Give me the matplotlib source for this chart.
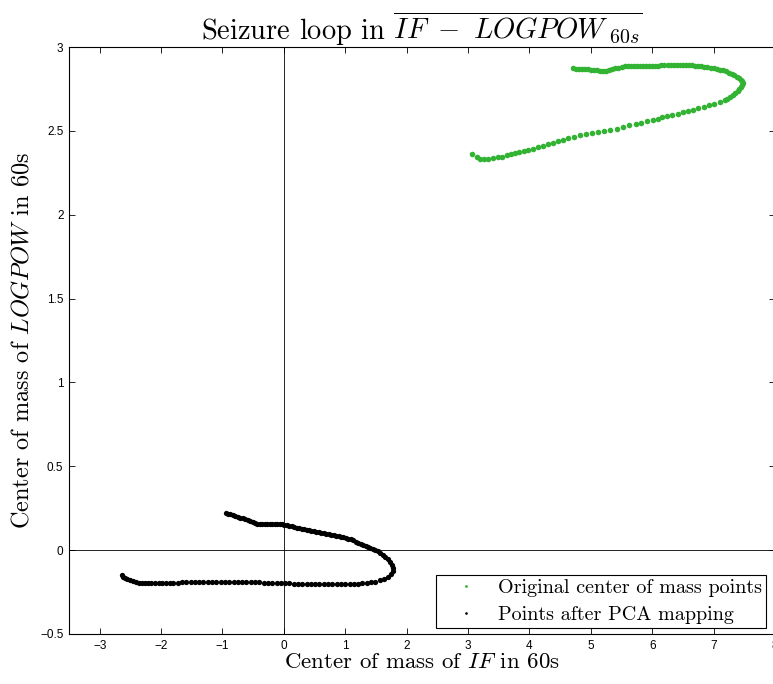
import matplotlib
matplotlib.use("Agg")
import matplotlib.pyplot as plt

plt.rcParams["mathtext.fontset"] = "cm"
plt.rcParams["axes.unicode_minus"] = True

# Original centre-of-mass points (IF, LOGPOW), 60 s windows
orig_x = [
    4.71, 4.76, 4.81, 4.86, 4.90, 4.95, 5.00, 5.05, 5.10, 5.15, 5.20, 5.25,
    5.30, 5.35, 5.40, 5.45, 5.50, 5.55, 5.60, 5.65, 5.70, 5.75, 5.80, 5.85,
    5.90, 5.95, 6.00, 6.05, 6.10, 6.15, 6.20, 6.25, 6.30, 6.35, 6.40, 6.45,
    6.50, 6.55, 6.60, 6.65, 6.70, 6.75, 6.80, 6.85, 6.90, 6.95, 7.00, 7.05,
    7.10, 7.15, 7.20, 7.25, 7.30, 7.34, 7.38, 7.42, 7.45, 7.47, 7.48, 7.47,
    7.45, 7.42, 7.39, 7.35, 7.31, 7.26, 7.21, 7.18,
    7.101, 7.008, 6.927, 6.845, 6.748, 6.666, 6.585, 6.503, 6.412, 6.324,
    6.243, 6.161, 6.096, 6.015, 5.917, 5.819, 5.728, 5.624, 5.516, 5.419,
    5.314, 5.217, 5.119, 5.021, 4.919, 4.821, 4.723, 4.630, 4.544, 4.458,
    4.376, 4.305, 4.223, 4.142, 4.060, 3.979, 3.909, 3.832, 3.762, 3.697,
    3.627, 3.555, 3.490, 3.409, 3.327, 3.262, 3.192, 3.138, 3.067,
]
orig_y = [
    2.872, 2.871, 2.870, 2.869, 2.868, 2.866, 2.864, 2.862, 2.860, 2.858, 2.857, 2.859,
    2.863, 2.868, 2.873, 2.877, 2.880, 2.884, 2.887, 2.888, 2.889, 2.889, 2.889, 2.889,
    2.888, 2.888, 2.888, 2.888, 2.889, 2.890, 2.890, 2.891, 2.891, 2.892, 2.892, 2.892,
    2.892, 2.892, 2.891, 2.890, 2.888, 2.886, 2.884, 2.882, 2.879, 2.875, 2.872, 2.868,
    2.864, 2.860, 2.854, 2.846, 2.839, 2.832, 2.824, 2.815, 2.805, 2.795, 2.784, 2.772,
    2.760, 2.748, 2.737, 2.725, 2.712, 2.700, 2.690, 2.682,
    2.671, 2.661, 2.652, 2.642, 2.634, 2.626, 2.618, 2.610, 2.602, 2.596,
    2.588, 2.580, 2.572, 2.562, 2.556, 2.546, 2.540, 2.534, 2.521, 2.512,
    2.504, 2.498, 2.493, 2.485, 2.479, 2.473, 2.465, 2.457, 2.448, 2.437,
    2.427, 2.419, 2.411, 2.401, 2.393, 2.385, 2.379, 2.373, 2.367, 2.361,
    2.354, 2.345, 2.342, 2.339, 2.333, 2.332, 2.333, 2.342, 2.360,
]

# Same points after the PCA mapping
pca_x = [
    -0.945, -0.91, -0.87, -0.83, -0.79, -0.75, -0.71, -0.67, -0.63, -0.59,
    -0.55, -0.51, -0.47, -0.43, -0.39, -0.35, -0.31, -0.27, -0.23, -0.19,
    -0.15, -0.11, -0.07, -0.03, 0.01, 0.05, 0.09, 0.13, 0.17, 0.21,
    0.25, 0.29, 0.33, 0.37, 0.41, 0.45, 0.49, 0.53, 0.57, 0.61,
    0.65, 0.69, 0.73, 0.77, 0.81, 0.85, 0.89, 0.93, 0.97, 1.01,
    1.05, 1.09, 1.13, 1.17, 1.21, 1.25, 1.29, 1.33, 1.37, 1.41,
    1.45, 1.49, 1.53, 1.57, 1.61, 1.65, 1.69, 1.73, 1.76, 1.78,
    1.77, 1.74, 1.69, 1.63, 1.56, 1.49, 1.42,
    1.35, 1.28, 1.21, 1.14, 1.07, 1.00, 0.93, 0.86, 0.79, 0.72,
    0.65, 0.58, 0.51, 0.44, 0.37, 0.30, 0.23, 0.16, 0.09, 0.02,
    -0.05, -0.12, -0.19, -0.26, -0.33, -0.40, -0.47, -0.54, -0.61, -0.68,
    -0.75, -0.82, -0.89, -0.96, -1.03, -1.10, -1.17, -1.24, -1.31, -1.38,
    -1.45, -1.52, -1.59, -1.66, -1.73, -1.80, -1.86, -1.92, -1.98, -2.04,
    -2.10, -2.16, -2.21, -2.26, -2.31, -2.36, -2.41, -2.46, -2.51, -2.55,
    -2.59, -2.62, -2.64,
]
pca_y = [
    0.219, 0.216, 0.213, 0.209, 0.204, 0.199, 0.194, 0.189, 0.183, 0.177,
    0.171, 0.165, 0.160, 0.158, 0.156, 0.155, 0.155, 0.155, 0.155, 0.155,
    0.155, 0.155, 0.155, 0.154, 0.152, 0.149, 0.145, 0.141, 0.137, 0.133,
    0.130, 0.127, 0.124, 0.121, 0.118, 0.115, 0.112, 0.109, 0.106, 0.103,
    0.100, 0.097, 0.094, 0.091, 0.088, 0.085, 0.082, 0.079, 0.076, 0.072,
    0.068, 0.064, 0.058, 0.051, 0.045, 0.039, 0.033, 0.027, 0.021, 0.015,
    0.009, 0.002, -0.007, -0.016, -0.027, -0.040, -0.054, -0.070, -0.088, -0.106,
    -0.124, -0.142, -0.158, -0.171, -0.181, -0.188, -0.192,
    -0.195, -0.197, -0.199, -0.200, -0.201, -0.202, -0.202, -0.203, -0.203, -0.203,
    -0.203, -0.203, -0.202, -0.202, -0.201, -0.201, -0.200, -0.199, -0.198, -0.197,
    -0.196, -0.195, -0.194, -0.193, -0.193, -0.192, -0.192, -0.191, -0.190, -0.190,
    -0.189, -0.189, -0.188, -0.188, -0.188, -0.188, -0.188, -0.189, -0.189, -0.190,
    -0.190, -0.191, -0.191, -0.192, -0.193, -0.193, -0.194, -0.195, -0.196, -0.197,
    -0.197, -0.197, -0.197, -0.196, -0.195, -0.193, -0.190, -0.186, -0.181, -0.175,
    -0.167, -0.158, -0.149,
]

x_ticks = [-3, -2, -1, 0, 1, 2, 3, 4, 5, 6, 7, 8]
y_ticks = [-0.5, 0, 0.5, 1, 1.5, 2, 2.5, 3]
y_tick_labels = ["\u22120.5", "0", "0.5", "1", "1.5", "2", "2.5", "3"]
x_tick_labels = [("\u2212%d" % -t) if t < 0 else str(t) for t in x_ticks]

W, H = 773, 684
fig = plt.figure(figsize=(W / 100, H / 100), dpi=100)
ax = fig.add_axes([69 / W, 50 / H, 706 / W, 587 / H])

green = (0.2, 0.70, 0.2)
ax.axhline(0, color="black", lw=0.6, zorder=1)
ax.axvline(0, color="black", lw=0.6, zorder=1)
ax.plot(orig_x, orig_y, "o", color=green, ms=4.0, mew=0, zorder=3,
        label="Original center of mass points")
ax.plot(pca_x, pca_y, "o", color="black", ms=3.8, mew=0, zorder=3,
        label="Points after PCA mapping")

ax.set_xlim(-3.5, 8)
ax.set_ylim(-0.5, 3)
ax.set_xticks(x_ticks)
ax.set_xticklabels(x_tick_labels, fontfamily="Liberation Sans", fontsize=8.5)
ax.set_yticks(y_ticks)
ax.set_yticklabels(y_tick_labels, fontfamily="Liberation Sans", fontsize=8.5)
ax.tick_params(direction="in", length=4.5, width=0.6, top=True, right=True,
               pad=4)
for s in ax.spines.values():
    s.set_linewidth(0.8)

ax.set_title(r"Seizure loop in $\overline{IF\ -\ LOGPOW_{\ 60s}}$",
             fontfamily="cmr10", fontsize=20.5, pad=5)
ax.set_xlabel(r"Center of mass of $IF$ in 60s", fontfamily="cmr10",
              fontsize=16.5, labelpad=1)
ax.set_ylabel(r"Center of mass of $LOGPOW$ in 60s", fontfamily="cmr10",
              fontsize=17.5, labelpad=5)

leg = ax.legend(loc="lower right", bbox_to_anchor=((766 - 69) / 706, 6 / 587),
                borderaxespad=0, fancybox=False, framealpha=1,
                edgecolor="black", markerscale=0.5, handlelength=2.6,
                prop={"family": "cmr10", "size": 14.5}, borderpad=0.2,
                labelspacing=0.45, handletextpad=0.3)
leg.get_frame().set_linewidth(0.8)

fig.savefig("out.png", dpi=100)
